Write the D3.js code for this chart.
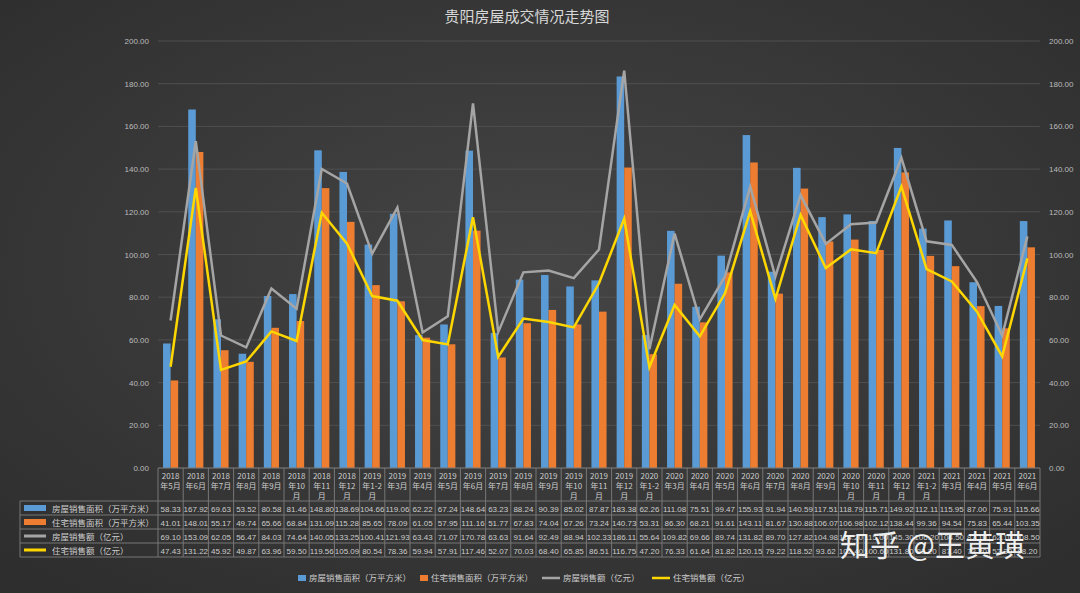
<!DOCTYPE html>
<html><head><meta charset="utf-8">
<script src="https://cdn.jsdelivr.net/npm/d3@7"></script>
<style>
body{margin:0;background:#383838}
svg{font-family:"Noto Sans CJK SC",sans-serif;display:block}
</style></head><body>
<svg id="c" width="1080" height="593"></svg>
<script>
const months = ["2018年5月","2018年6月","2018年7月","2018年8月","2018年9月","2018年10月","2018年11月","2018年12月",
 "2019年1-2月","2019年3月","2019年4月","2019年5月","2019年6月","2019年7月","2019年8月","2019年9月","2019年10月","2019年11月","2019年12月",
 "2020年1-2月","2020年3月","2020年4月","2020年5月","2020年6月","2020年7月","2020年8月","2020年9月","2020年10月","2020年11月","2020年12月",
 "2021年1-2月","2021年3月","2021年4月","2021年5月","2021年6月"]
const houseArea = [58.33,167.92,69.63,53.52,80.58,81.46,148.80,138.69,104.66,119.06,62.22,67.24,148.64,63.23,88.24,90.39,85.02,87.87,183.38,62.26,111.08,75.51,99.47,155.93,91.94,140.59,117.51,118.79,115.71,149.92,112.11,115.95,87.00,75.91,115.66]
const homeArea = [41.01,148.01,55.17,49.74,65.66,68.84,131.09,115.28,85.65,78.09,61.05,57.95,111.16,51.77,67.83,74.04,67.26,73.24,140.73,53.31,86.30,68.21,91.61,143.11,81.67,130.88,106.07,106.98,102.12,138.44,99.36,94.54,75.83,65.44,103.35]
const houseAmt = [69.10,153.09,62.05,56.47,84.03,74.64,140.05,133.25,100.41,121.93,63.43,71.07,170.78,63.63,91.64,92.49,88.94,102.33,186.11,55.64,109.82,69.66,89.74,131.82,89.70,127.82,104.98,114.20,115.00,145.30,106.20,104.50,87.10,62.10,108.50]
const homeAmt = [47.43,131.22,45.92,49.87,63.96,59.50,119.56,105.09,80.54,78.36,59.94,57.91,117.46,52.07,70.03,68.40,65.85,86.51,116.75,47.20,76.33,61.64,81.82,120.15,79.22,118.52,93.62,102.40,100.60,131.80,93.20,87.40,73.20,52.30,98.20]
const yTicks = d3.range(0, 201, 20)
const seriesNames = ["房屋销售面积（万平方米）","住宅销售面积（万平方米）","房屋销售额（亿元）","住宅销售额（亿元）"]
const colors = ["#5b9bd5","#ed7d31","#a5a5a5","#ffd700"]

const svg = d3.select("#c")
const defs = svg.append("defs")
const bg = defs.append("radialGradient").attr("id","bg").attr("cx","50%").attr("cy","45%").attr("r","70%")
bg.append("stop").attr("offset","0").attr("stop-color","#454545")
bg.append("stop").attr("offset","1").attr("stop-color","#2e2e2e")
svg.append("rect").attr("width",1080).attr("height",593).attr("fill","url(#bg)")

const L = 158, R = 1040, T = 41, B = 468
const x = d3.scaleBand().domain(months).range([L, R])
const y = d3.scaleLinear().domain([0, 200]).range([B, T])

svg.append("text").attr("x", 527).attr("y", 22).attr("text-anchor","middle")
  .attr("fill","#d8d8d8").attr("font-size",15).text("贵阳房屋成交情况走势图")

svg.append("g").selectAll("line").data(yTicks).join("line")
  .attr("x1",L).attr("x2",R).attr("y1",d=>y(d)).attr("y2",d=>y(d))
  .attr("stroke","#555").attr("stroke-width",0.8)

const fmt = d3.format(".2f")
svg.append("g").attr("transform",`translate(${L-6},0)`)
  .call(d3.axisLeft(y).tickValues(yTicks).tickFormat(fmt).tickSize(0))
  .call(g=>g.select(".domain").remove())
  .selectAll("text").attr("fill","#bbb").attr("font-size",8).attr("font-family","Liberation Sans")
svg.append("g").attr("transform",`translate(${R+6},0)`)
  .call(d3.axisRight(y).tickValues(yTicks).tickFormat(fmt).tickSize(0))
  .call(g=>g.select(".domain").remove())
  .selectAll("text").attr("fill","#bbb").attr("font-size",8).attr("font-family","Liberation Sans")

const bw = x.bandwidth()*0.3
svg.append("g").selectAll("rect").data(houseArea).join("rect")
  .attr("x",(d,i)=>x(months[i])+x.bandwidth()*0.2).attr("width",bw)
  .attr("y",d=>y(d)).attr("height",d=>B-y(d)).attr("fill",colors[0])
svg.append("g").selectAll("rect").data(homeArea).join("rect")
  .attr("x",(d,i)=>x(months[i])+x.bandwidth()*0.5).attr("width",bw)
  .attr("y",d=>y(d)).attr("height",d=>B-y(d)).attr("fill",colors[1])

const line = d3.line().x((d,i)=>x(months[i])+x.bandwidth()/2).y(d=>y(d))
svg.append("path").datum(houseAmt).attr("d",line).attr("fill","none").attr("stroke",colors[2]).attr("stroke-width",2.5)
svg.append("path").datum(homeAmt).attr("d",line).attr("fill","none").attr("stroke",colors[3]).attr("stroke-width",2.5)

// data table
const tbl = svg.append("g").attr("font-size",8.5).attr("fill","#ccc")
const rowH = 14, hdrB = 501, tblL = 20
const tc = "#777"
tbl.append("line").attr("x1",L).attr("x2",R).attr("y1",B).attr("y2",B).attr("stroke",tc)
x.domain().forEach(m=>{
  tbl.append("line").attr("x1",x(m)).attr("x2",x(m)).attr("y1",B).attr("y2",hdrB+rowH*4).attr("stroke",tc)
  const yr = m.slice(0,4), rest = m.slice(4)
  const lines = rest.length > 3 ? [yr, rest.slice(0,rest.length-1), "月"] : [yr, rest]
  lines.forEach((t,k)=>tbl.append("text").attr("x",x(m)+x.bandwidth()/2).attr("y",B+11+k*10)
    .attr("text-anchor","middle").attr("font-size",8).attr("fill","#ccc").text(t))
})
tbl.append("line").attr("x1",R).attr("x2",R).attr("y1",B).attr("y2",hdrB+rowH*4).attr("stroke",tc)
tbl.append("line").attr("x1",tblL).attr("x2",tblL).attr("y1",hdrB).attr("y2",hdrB+rowH*4).attr("stroke",tc)
const all = [houseArea, homeArea, houseAmt, homeAmt]
all.forEach((arr,r)=>{
  const yy = hdrB + r*rowH
  tbl.append("line").attr("x1",tblL).attr("x2",R).attr("y1",yy).attr("y2",yy).attr("stroke",tc)
  if (r<2) tbl.append("rect").attr("x",tblL+4).attr("y",yy+4).attr("width",22).attr("height",6).attr("fill",colors[r])
  else tbl.append("line").attr("x1",tblL+4).attr("x2",tblL+26).attr("y1",yy+7).attr("y2",yy+7).attr("stroke",colors[r]).attr("stroke-width",3)
  tbl.append("text").attr("x",tblL+32).attr("y",yy+10.5).text(seriesNames[r])
  arr.forEach((v,i)=>tbl.append("text").attr("x",x(months[i])+x.bandwidth()/2).attr("y",yy+10.5)
    .attr("text-anchor","middle").attr("font-family","Liberation Sans").attr("font-size",8).text(fmt(v)))
})
tbl.append("line").attr("x1",tblL).attr("x2",R).attr("y1",hdrB+rowH*4).attr("y2",hdrB+rowH*4).attr("stroke",tc)

// legend
const lg = svg.append("g").attr("font-size",8.5).attr("fill","#ccc")
const lx = [298, 420, 548, 658]
seriesNames.forEach((n,i)=>{
  if (i<2) lg.append("rect").attr("x",lx[i]).attr("y",575).attr("width",8).attr("height",6).attr("fill",colors[i])
  else lg.append("line").attr("x1",lx[i]-6).attr("x2",lx[i]+12).attr("y1",578).attr("y2",578).attr("stroke",colors[i]).attr("stroke-width",2.5)
  lg.append("text").attr("x",lx[i]+(i<2?11:15)).attr("y",581).text(n)
})

svg.append("text").attr("x",1025).attr("y",556).attr("text-anchor","end").attr("font-size",30)
  .attr("fill","#fff").attr("fill-opacity",0.92).text("知乎 @王黄璜")
</script></body></html>
